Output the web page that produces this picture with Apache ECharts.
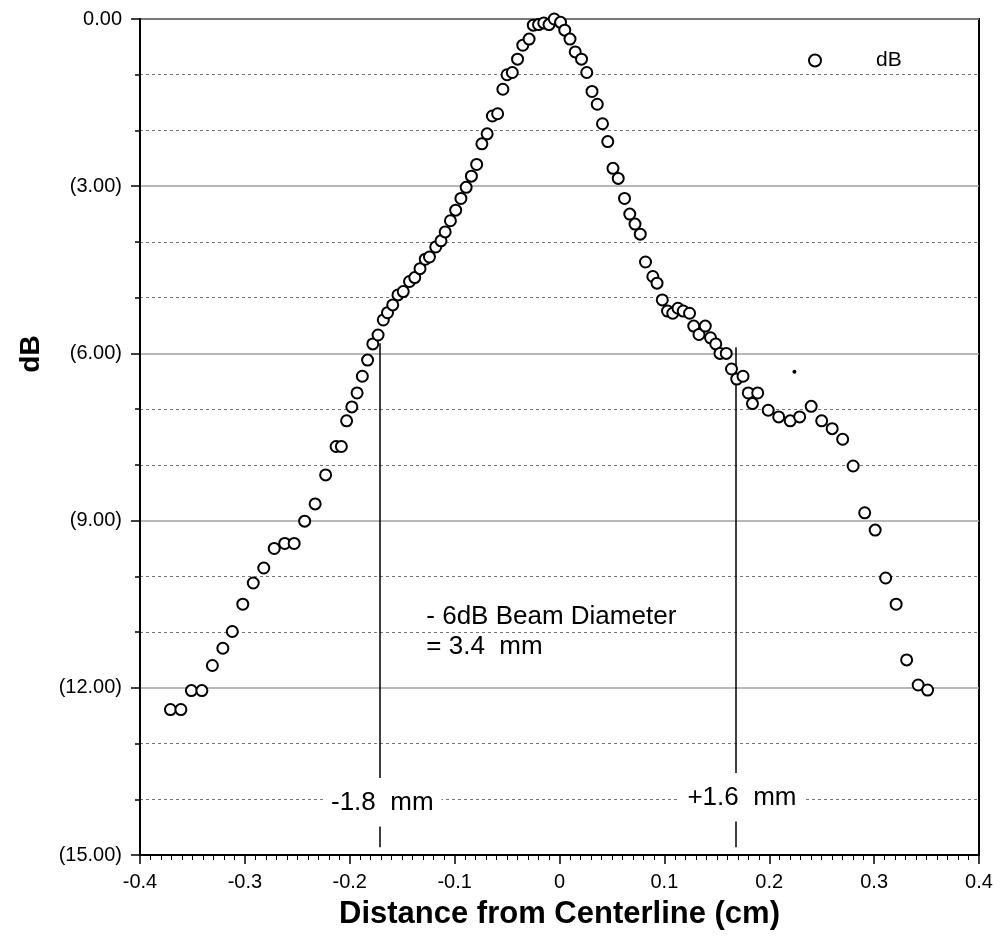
<!DOCTYPE html>
<html>
<head>
<meta charset="utf-8">
<title>dB beam profile</title>
<script src="https://cdn.jsdelivr.net/npm/echarts/dist/echarts.min.js"></script>
<style>
  html, body { margin: 0; padding: 0; background: #fff; }
  #chart { width: 1005px; height: 944px; }
</style>
</head>
<body>
<div id="chart"></div>
<script>
// measured beam profile: distance from centerline (cm) and level (dB)
var distance = [
  -0.371, -0.361, -0.351, -0.341, -0.331, -0.321, -0.312, -0.302, -0.292, -0.282,
  -0.272, -0.262, -0.253, -0.243, -0.233, -0.223, -0.213, -0.208, -0.203, -0.198,
  -0.193, -0.188, -0.183, -0.178, -0.173, -0.168, -0.164, -0.159, -0.154, -0.149,
  -0.143, -0.138, -0.133, -0.128, -0.124, -0.118, -0.113, -0.109, -0.104, -0.099,
  -0.094, -0.089, -0.084, -0.079, -0.074, -0.069, -0.064, -0.059, -0.054, -0.050,
  -0.045, -0.040, -0.035, -0.029, -0.025, -0.020, -0.015, -0.010, -0.005, 0.001,
  0.005, 0.010, 0.015, 0.021, 0.026, 0.031, 0.036, 0.041, 0.046, 0.051,
  0.056, 0.062, 0.067, 0.072, 0.077, 0.082, 0.089, 0.093, 0.098, 0.103,
  0.108, 0.113, 0.118, 0.124, 0.128, 0.133, 0.139, 0.144, 0.149, 0.153,
  0.159, 0.164, 0.169, 0.175, 0.180, 0.184, 0.189, 0.199, 0.209, 0.220,
  0.229, 0.240, 0.250, 0.260, 0.270, 0.280, 0.291, 0.301, 0.311, 0.321,
  0.331, 0.342, 0.351
];
var level = [
  -12.39, -12.39, -12.05, -12.05, -11.60, -11.29, -10.99, -10.50, -10.12, -9.85,
  -9.50, -9.41, -9.41, -9.01, -8.70, -8.18, -7.67, -7.67, -7.21, -6.96,
  -6.71, -6.41, -6.12, -5.83, -5.67, -5.40, -5.27, -5.13, -4.95, -4.89,
  -4.71, -4.64, -4.48, -4.31, -4.27, -4.09, -3.98, -3.82, -3.62, -3.43,
  -3.22, -3.02, -2.82, -2.61, -2.24, -2.06, -1.74, -1.70, -1.26, -1.00,
  -0.96, -0.72, -0.47, -0.36, -0.11, -0.10, -0.07, -0.10, 0.00, -0.06,
  -0.20, -0.36, -0.59, -0.72, -0.96, -1.30, -1.53, -1.88, -2.20, -2.68,
  -2.86, -3.22, -3.50, -3.68, -3.86, -4.36, -4.62, -4.74, -5.04, -5.24,
  -5.28, -5.19, -5.24, -5.28, -5.51, -5.66, -5.51, -5.72, -5.83, -6.00,
  -6.00, -6.28, -6.46, -6.41, -6.71, -6.90, -6.71, -7.02, -7.14, -7.21,
  -7.14, -6.95, -7.21, -7.35, -7.54, -8.02, -8.86, -9.17, -10.03, -10.50,
  -11.50, -11.95, -12.04
];

// stray dot in the scan
var dotX = [0.224];
var dotY = [-6.33];

// -6dB marker lines (x, top, bottom) and the short ticks under the labels
var markerX = [-0.171, 0.168];
var markerTop = [-5.82, -5.89];
var markerBottom = [-13.62, -13.53];
var tickTop = [-14.49, -14.40];
var tickBottom = [-14.86, -14.86];

// annotation texts at data positions
var noteX = [-0.127, -0.127, -0.169, 0.174];
var noteY = [-10.73, -11.27, -14.07, -13.98];
var noteText = ['- 6dB Beam Diameter', '= 3.4  mm', '-1.8  mm', '+1.6  mm'];
var noteAlign = ['left', 'left', 'center', 'center'];
var noteBg = [false, false, true, true];

var font = 'Liberation Sans, Arial, Helvetica, sans-serif';

var points = distance.map(function (d, i) { return [d, level[i]]; });
var dots = dotX.map(function (d, i) { return [d, dotY[i]]; });

var segs = [];
markerX.forEach(function (x, i) {
  segs.push({ coords: [[x, markerTop[i]], [x, markerBottom[i]]] });
  segs.push({ coords: [[x, tickTop[i]], [x, tickBottom[i]]] });
});

var notes = noteX.map(function (x, i) {
  return {
    value: [x, noteY[i]],
    label: {
      formatter: noteText[i],
      align: noteAlign[i],
      color: '#000',
      backgroundColor: noteBg[i] ? '#fff' : 'transparent',
      padding: noteBg[i] ? [2, 8] : 0
    }
  };
});

var chart = echarts.init(document.getElementById('chart'));

var option = {
  animation: false,
  backgroundColor: '#fff',
  textStyle: { fontFamily: font },
  grid: {
    left: 140, top: 19, right: 26, bottom: 89,
    show: true, borderColor: '#000', borderWidth: 2
  },
  legend: {
    data: [{ name: 'dB', icon: 'circle' }],
    left: 803, top: 45,
    itemWidth: 12, itemHeight: 12,
    itemStyle: { color: '#fff', borderColor: '#000', borderWidth: 2 },
    textStyle: { fontSize: 21, color: '#000', padding: [0, 0, 0, 50] }
  },
  xAxis: {
    type: 'value',
    min: -0.4, max: 0.4, interval: 0.1,
    name: 'Distance from Centerline (cm)',
    nameLocation: 'middle',
    nameGap: 44,
    nameTextStyle: { fontSize: 31, fontWeight: 'bold', color: '#000' },
    axisLine: { onZero: false, lineStyle: { color: '#000', width: 2 } },
    axisTick: { length: 9, lineStyle: { color: '#000', width: 1.5 } },
    minorTick: { show: true, splitNumber: 10, length: 5, lineStyle: { color: '#000', width: 1 } },
    axisLabel: {
      fontSize: 20, color: '#000', margin: 17,
      formatter: function (v) { return String(Math.round(v * 10) / 10); }
    },
    splitLine: { show: false }
  },
  yAxis: {
    type: 'value',
    min: -15, max: 0, interval: 3,
    name: 'dB',
    nameLocation: 'middle',
    nameGap: 95,
    nameTextStyle: { fontSize: 28, fontWeight: 'bold', color: '#000', padding: [0, 0, 0, 166] },
    axisLine: { onZero: false, lineStyle: { color: '#000', width: 2 } },
    axisTick: { length: 9, lineStyle: { color: '#000', width: 1.5 } },
    minorTick: { show: true, splitNumber: 3, length: 5, lineStyle: { color: '#000', width: 1.5 } },
    axisLabel: {
      fontSize: 20, color: '#000', margin: 18,
      formatter: function (v) {
        return v === 0 ? '0.00' : '(' + Math.abs(v).toFixed(2) + ')';
      }
    },
    splitLine: { show: true, lineStyle: { color: '#a0a0a0', width: 1.5 } },
    minorSplitLine: { show: true, lineStyle: { color: '#777', width: 1, type: [3, 3] } }
  },
  series: [
    {
      name: 'markers',
      type: 'lines',
      coordinateSystem: 'cartesian2d',
      data: segs,
      lineStyle: { color: '#000', width: 1.5, opacity: 1 },
      z: 3
    },
    {
      name: 'dB',
      type: 'scatter',
      symbol: 'circle',
      symbolSize: 11,
      itemStyle: { color: '#fff', borderColor: '#000', borderWidth: 2, opacity: 1 },
      data: points,
      z: 5
    },
    {
      name: 'dot',
      type: 'scatter',
      symbol: 'circle',
      symbolSize: 4,
      itemStyle: { color: '#000', opacity: 1 },
      data: dots,
      z: 5
    },
    {
      name: 'notes',
      type: 'scatter',
      symbolSize: 0,
      silent: true,
      itemStyle: { opacity: 1 },
      data: notes,
      label: {
        show: true,
        position: 'inside',
        fontSize: 26,
        color: '#000'
      },
      z: 6
    }
  ]
};

chart.setOption(option);
</script>
</body>
</html>
